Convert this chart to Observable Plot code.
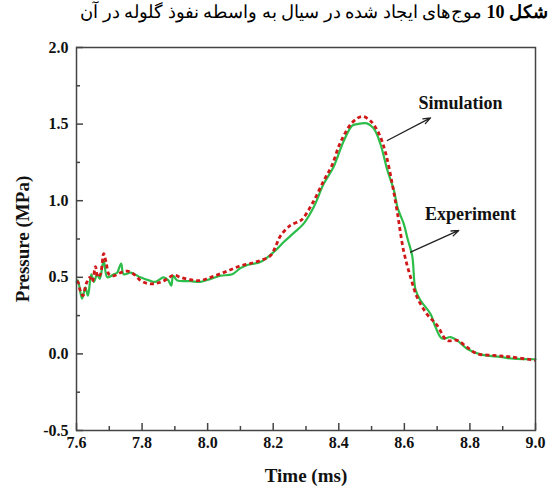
<!DOCTYPE html>
<html><head><meta charset="utf-8">
<script src="https://cdn.jsdelivr.net/npm/d3@7"></script>
<script src="https://cdn.jsdelivr.net/npm/@observablehq/plot@0.6"></script>
<style>
body{margin:0;background:#fff;width:552px;height:486px;overflow:hidden}
#title{height:24px;line-height:24px;font-family:"Liberation Serif","DejaVu Serif",serif;font-size:18px;text-align:right;direction:rtl;padding-right:4px;color:#000;white-space:nowrap}
</style></head>
<body>
<div id="title"><b>شکل 10</b> موج‌های ایجاد شده در سیال به واسطه نفوذ گلوله در آن</div>
<div id="chart"></div>
<script>
const expTime = [7.600,7.604,7.617,7.627,7.635,7.645,7.653,7.663,7.671,7.683,7.694,7.714,7.724,7.736,7.744,7.765,7.795,7.821,7.840,7.866,7.880,7.889,7.895,7.907,7.948,7.978,8.009,8.039,8.075,8.100,8.121,8.161,8.202,8.232,8.263,8.293,8.324,8.354,8.384,8.415,8.441,8.456,8.486,8.507,8.527,8.548,8.568,8.580,8.598,8.610,8.624,8.634,8.649,8.680,8.695,8.715,8.741,8.761,8.791,8.832,8.893,8.933,9.000];
const expPressure = [0.47,0.48,0.36,0.435,0.38,0.52,0.47,0.52,0.49,0.61,0.50,0.52,0.53,0.59,0.52,0.53,0.50,0.48,0.47,0.50,0.48,0.445,0.51,0.48,0.475,0.47,0.49,0.51,0.52,0.56,0.58,0.60,0.665,0.73,0.79,0.85,0.96,1.11,1.22,1.39,1.49,1.50,1.505,1.47,1.37,1.20,1.07,0.95,0.85,0.75,0.64,0.42,0.35,0.26,0.175,0.10,0.11,0.088,0.034,-0.003,-0.02,-0.031,-0.035];
const simTime = [7.600,7.604,7.612,7.620,7.630,7.641,7.648,7.658,7.665,7.673,7.683,7.691,7.699,7.714,7.734,7.755,7.775,7.795,7.816,7.836,7.856,7.877,7.897,7.917,7.948,7.978,8.009,8.039,8.070,8.100,8.130,8.161,8.192,8.207,8.222,8.253,8.283,8.293,8.324,8.354,8.379,8.405,8.441,8.471,8.497,8.522,8.543,8.563,8.578,8.598,8.619,8.639,8.669,8.700,8.730,8.761,8.791,8.822,8.873,8.924,9.000];
const simPressure = [0.47,0.47,0.41,0.38,0.46,0.50,0.47,0.57,0.50,0.52,0.655,0.59,0.52,0.51,0.53,0.54,0.52,0.48,0.46,0.458,0.468,0.49,0.515,0.50,0.484,0.479,0.50,0.523,0.549,0.575,0.59,0.61,0.642,0.70,0.77,0.84,0.87,0.89,1.00,1.13,1.23,1.38,1.51,1.55,1.52,1.44,1.31,1.11,0.93,0.67,0.50,0.37,0.26,0.186,0.088,0.088,0.044,0.001,-0.01,-0.02,-0.042];
const xMajor = [7.6,7.8,8.0,8.2,8.4,8.6,8.8,9.0];
const xMinor = [7.7,7.9,8.1,8.3,8.5,8.7,8.9];
const yMajor = [-0.5,0.0,0.5,1.0,1.5,2.0];
const yMinor = [-0.25,0.25,0.75,1.25,1.75];
const seriesNames = ["Simulation","Experiment"];
const annLabelTime = [8.771, 8.802];
const annLabelPressure = [1.636, 0.914];
const arrowFromTime = [8.548, 8.619];
const arrowFromPressure = [1.393, 0.664];
const arrowToTime = [8.680, 8.766];
const arrowToPressure = [1.541, 0.806];

const expData = expTime.map((t,i)=>({t, p: expPressure[i]}));
const simData = simTime.map((t,i)=>({t, p: simPressure[i]}));
const ann = seriesNames.map((name,i)=>({name, lt: annLabelTime[i], lp: annLabelPressure[i], x1: arrowFromTime[i], y1: arrowFromPressure[i], x2: arrowToTime[i], y2: arrowToPressure[i]}));

const W = 552, H = 462, mt = 23, mb = 56, ml = 76, mr = 17;
const innerH = H - mt - mb, innerW = W - ml - mr;
const ax = "#444";
const chart = Plot.plot({
  width: W, height: H, marginTop: mt, marginBottom: mb, marginLeft: ml, marginRight: mr,
  style: {fontFamily: "'Liberation Serif', 'Times New Roman', serif", fontWeight: "bold", color: "#111", background: "#fff"},
  x: {domain: [7.6, 9.0]},
  y: {domain: [-0.5, 2.0]},
  marks: [
    Plot.axisX({ticks: xMajor, tickSize: 0, tickPadding: 6, tickFormat: d => d.toFixed(1), fontSize: 16, label: null}),
    Plot.axisY({ticks: yMajor, tickSize: 0, tickPadding: 8, tickFormat: d => d.toFixed(1), fontSize: 16, label: null}),
    Plot.tickX(xMajor, {x: d => d, insetTop: innerH - 7, stroke: ax, strokeWidth: 1.5}),
    Plot.tickX(xMinor, {x: d => d, insetTop: innerH - 4, stroke: ax, strokeWidth: 1.5}),
    Plot.tickY(yMajor, {y: d => d, insetRight: innerW - 7, stroke: ax, strokeWidth: 1.5}),
    Plot.tickY(yMinor, {y: d => d, insetRight: innerW - 4, stroke: ax, strokeWidth: 1.5}),
    Plot.line(expData, {x: "t", y: "p", stroke: "#2cbd4a", strokeWidth: 2.2, curve: "catmull-rom"}),
    Plot.line(simData, {x: "t", y: "p", stroke: "#d01818", strokeWidth: 2.8, strokeDasharray: "4,3", strokeLinecap: "butt", curve: "catmull-rom"}),
    Plot.arrow(ann, {x1: "x1", y1: "y1", x2: "x2", y2: "y2", stroke: "#222", strokeWidth: 1.3, headLength: 9, headAngle: 40}),
    Plot.text(ann, {x: "lt", y: "lp", text: "name", fontSize: 18, fill: "#111"}),
    Plot.frame({stroke: ax, strokeWidth: 1.5}),
    Plot.text(["Pressure (MPa)"], {frameAnchor: "left", textAnchor: "middle", lineAnchor: "middle", text: d => d, rotate: -90, dx: -54, fontSize: 19, fill: "#111"}),
    Plot.text(["Time (ms)"], {frameAnchor: "bottom", textAnchor: "middle", lineAnchor: "middle", text: d => d, dy: 45, fontSize: 19, fill: "#111"})
  ]
});
document.getElementById("chart").appendChild(chart);
</script>
</body></html>
